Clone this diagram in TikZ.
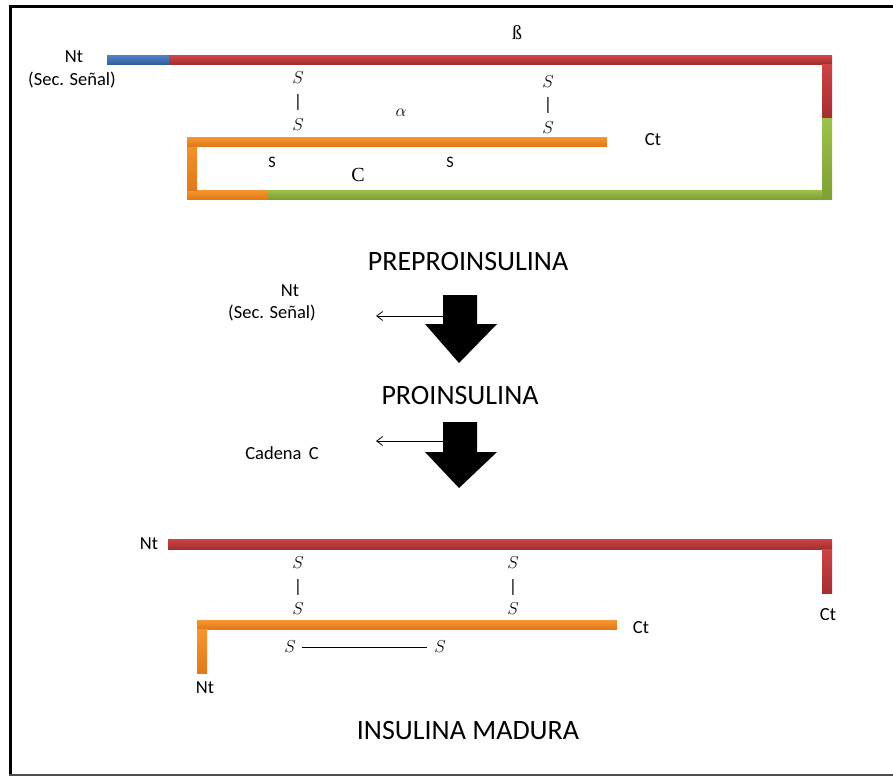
\documentclass[tikz,border=0pt]{standalone}
\usepackage{fontspec}
\setmainfont{Carlito}
\newfontfamily\seriffont{Liberation Serif}
\usetikzlibrary{arrows.meta}

\definecolor{redhi}{HTML}{CC4445}
\definecolor{redlo}{HTML}{A52E30}
\definecolor{orhi}{HTML}{F7962E}
\definecolor{orlo}{HTML}{E07A1C}
\definecolor{grhi}{HTML}{9DC24A}
\definecolor{grlo}{HTML}{7E9F35}
\definecolor{blhi}{HTML}{4A80C4}
\definecolor{bllo}{HTML}{33609E}

\tikzset{
  redbar/.style={top color=redhi,bottom color=redlo},
  orbar/.style={top color=orhi,bottom color=orlo},
  grbar/.style={top color=grhi,bottom color=grlo},
  blbar/.style={top color=blhi,bottom color=bllo},
  lbl/.style={inner sep=0pt,font=\fontsize{18.5}{21}\selectfont},
  small/.style={inner sep=0pt,font=\fontsize{16}{18}\selectfont},
  sym/.style={inner sep=0pt,font=\fontsize{18}{20}\selectfont},
  serifsym/.style={inner sep=0pt,font=\fontsize{20}{22}\seriffont},
  title/.style={inner sep=0pt,font=\fontsize{28}{32}\selectfont},
  bigarrow/.style={fill=black},
  thinarrow/.style={-{Straight Barb[length=6pt,width=9pt]},line width=0.8pt},
}

\begin{document}
\begin{tikzpicture}[x=1pt,y=-1pt]
\useasboundingbox (0,0) rectangle (893,776);
\fill[white] (0,0) rectangle (893,776);

% frame
\draw[line width=3pt] (10.5,776) -- (10.5,6.5) -- (893,6.5);
\draw[line width=1.5pt,black!70] (9,775) -- (893,775);

% ---------- preproinsulin ----------
\shade[blbar] (107,56) rectangle (169,64);
\shade[redbar] (169,56) rectangle (832,64);
\shade[redbar] (822,64) rectangle (832,118);
\shade[grbar] (822,118) rectangle (832,199);
\shade[grbar] (268,190) rectangle (822,199);
\shade[orbar] (187,190) rectangle (268,199);
\shade[orbar] (187,137) rectangle (197,190);
\shade[orbar] (187,137) rectangle (607,146);

\node[lbl] (nt1) at (74,57) {Nt};
\node[lbl] (sec1) at (72,80) {(Sec. Señal)};
\node[serifsym] (beta) at (517,33) {ß};
\node[sym] (s1a) at (298,78) {$S$};
\node[sym] (b1) at (298,102) {|};
\node[sym] (s1b) at (298,125) {$S$};
\node[sym] (alpha) at (401,113) {$\alpha$};
\node[sym] (s2a) at (548,82) {$S$};
\node[sym] (b2) at (548,105) {|};
\node[sym] (s2b) at (548,128) {$S$};
\node[lbl] (ct1) at (653,140) {Ct};
\node[small] (s3) at (272,162) {S};
\node[small] (s4) at (450,162) {S};
\node[serifsym] (cc) at (358,175) {C};

\node[title] (pre) at (468,262) {PREPROINSULINA};

% ---------- first cleavage ----------
\fill[bigarrow] (443,295) -- (477,295) -- (477,324) -- (497,324) -- (459,363)
  -- (425,324) -- (443,324) -- cycle;
\coordinate (a1) at (443,316);
\coordinate (a1end) at (376,316);
\draw[thinarrow] (a1) -- (a1end);
\node[lbl] (nt2) at (290,291) {Nt};
\node[lbl] (sec2) at (272,313) {(Sec. Señal)};

\node[title] (pro) at (460,396) {PROINSULINA};

% ---------- second cleavage ----------
\fill[bigarrow] (443,422) -- (477,422) -- (477,452) -- (497,452) -- (459,488)
  -- (425,452) -- (443,452) -- cycle;
\coordinate (a2) at (443,441);
\coordinate (a2end) at (376,441);
\draw[thinarrow] (a2) -- (a2end);
\node[lbl] (cad) at (282,453) {Cadena\, C};

% ---------- mature insulin ----------
\shade[redbar] (168,539) rectangle (832,549);
\shade[redbar] (822,549) rectangle (832,593);
\shade[orbar] (197,620) rectangle (617,629);
\shade[orbar] (197,629) rectangle (207,673);

\node[lbl] (nt3) at (149,544) {Nt};
\node[lbl] (ct3) at (828,615) {Ct};
\node[sym] (m1a) at (298,563) {$S$};
\node[sym] (mb1) at (298,587) {|};
\node[sym] (m1b) at (298,609) {$S$};
\node[sym] (m2a) at (513,563) {$S$};
\node[sym] (mb2) at (513,587) {|};
\node[sym] (m2b) at (513,609) {$S$};
\node[lbl] (ct4) at (641,628) {Ct};
\node[lbl] (nt4) at (205,688) {Nt};
\node[sym] (m3) at (290,647) {$S$};
\node[sym] (m4) at (440,647) {$S$};
\draw[line width=0.8pt] (m3.east) ++(6,0) -- ([xshift=-7pt]m4.west);

\node[title] (mad) at (468,731) {INSULINA MADURA};
\end{tikzpicture}
\end{document}
